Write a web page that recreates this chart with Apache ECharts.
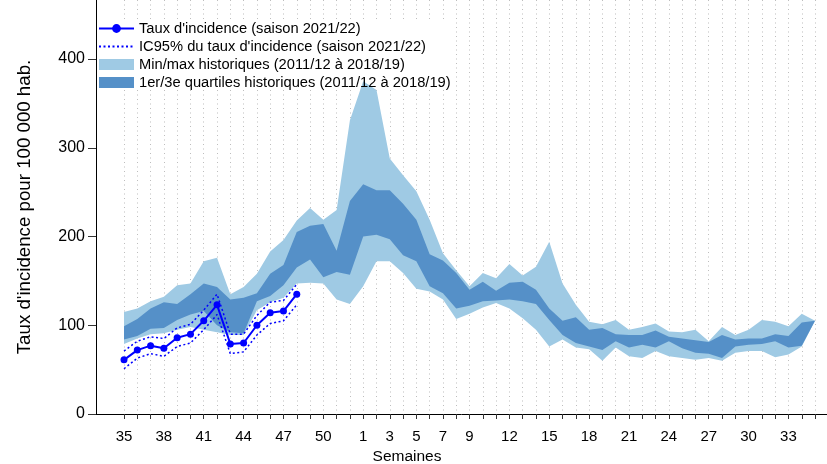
<!DOCTYPE html>
<html>
<head>
<meta charset="utf-8">
<script src="https://cdn.jsdelivr.net/npm/echarts@6/dist/echarts.min.js"></script>
<style>
html, body { margin: 0; padding: 0; background: #fff; }
#chart { width: 827px; height: 464px; }
</style>
</head>
<body>
<div id="chart"></div>
<script>
// semaines de la saison (35 -> 35)
var weeks = ['35','36','37','38','39','40','41','42','43','44','45','46','47','48','49','50','51','52',
    '1','2','3','4','5','6','7','8','9','10','11','12','13','14','15','16','17','18','19','20',
    '21','22','23','24','25','26','27','28','29','30','31','32','33','34','35'];
var shownWeeks = ['35','38','41','44','47','50','1','3','5','7','9','12','15','18','21','24','27','30','33'];
var yTicks = [0, 100, 200, 300, 400];

// saison 2021/22
var rate   = [61, 72, 77, 74, 86, 90, 105, 123, 79, 80, 100, 114, 116, 135];
var icLow  = [51, 63, 68, 65, 76, 80, 95, 112, 68, 70, 89, 102, 105, 123];
var icHigh = [71, 82, 87, 85, 97, 101, 117, 135, 90, 90, 111, 126, 128, 146];

// historique 2011/12 a 2018/19
var histMax = [115, 119, 127, 132, 145, 147, 172, 176, 135, 143, 158, 183, 196, 218, 232, 219, 230, 331,
    375, 365, 288, 269, 251, 219, 181, 162, 144, 159, 153, 169, 156, 166, 194, 147, 123, 104, 101, 106,
    95, 98, 102, 93, 92, 95, 82, 98, 89, 95, 106, 104, 99, 113, 105];
var histQ3 = [99, 107, 119, 126, 124, 135, 147, 143, 129, 131, 136, 158, 168, 205, 212, 214, 184, 240,
    259, 252, 252, 237, 219, 180, 173, 159, 140, 149, 139, 148, 149, 140, 119, 105, 109, 95, 97, 90,
    89, 89, 94, 87, 85, 83, 81, 89, 84, 85, 85, 90, 88, 103, 105];
var histQ1 = [84, 88, 96, 97, 106, 112, 116, 100, 92, 91, 127, 133, 145, 165, 174, 154, 160, 157,
    200, 202, 197, 179, 172, 144, 136, 119, 122, 127, 128, 129, 127, 124, 106, 89, 80, 76, 72, 82,
    75, 78, 75, 82, 74, 69, 68, 63, 76, 78, 79, 82, 75, 77, 105];
var histMin = [79, 85, 90, 91, 95, 98, 95, 92, 89, 89, 117, 126, 131, 147, 148, 147, 129, 124,
    144, 172, 172, 159, 141, 138, 129, 107, 113, 120, 125, 119, 108, 95, 76, 84, 75, 73, 60, 75,
    65, 63, 71, 65, 63, 61, 63, 60, 69, 71, 71, 64, 67, 76, 105];

var rateName = "Taux d'incidence (saison 2021/22)";
var icName = "IC95% du taux d'incidence (saison 2021/22)";
var minmaxName = 'Min/max historiques (2011/12 à 2018/19)';
var quartName = '1er/3e quartiles historiques (2011/12 à 2018/19)';

var font = '"Liberation Sans", Arial, sans-serif';
var blue = '#0000ff';

function toPoints(values) {
    return values.map(function (v, i) { return [i, v]; });
}

/** bande entre deux courbes, dessinee en un seul polygone */
function bandSeries(name, lower, upper, color) {
    return {
        name: name,
        type: 'custom',
        silent: true,
        itemStyle: { color: color },
        data: lower.map(function (v, i) { return [i, v, upper[i]]; }),
        encode: { x: 0, y: [1, 2] },
        renderItem: function (params, api) {
            if (params.dataIndex !== 0) return;
            var pts = [];
            for (var i = 0; i < upper.length; i++) pts.push(api.coord([i, upper[i]]));
            for (var j = lower.length - 1; j >= 0; j--) pts.push(api.coord([j, lower[j]]));
            return { type: 'polygon', shape: { points: pts }, style: { fill: color } };
        }
    };
}

var tickIdx = weeks.map(function (w, i) { return i; });
var labelIdx = shownWeeks.map(function (w) { return weeks.indexOf(w); });

var myChart = echarts.init(document.getElementById('chart'));

var option = {
    animation: false,
    textStyle: { fontFamily: font },
    grid: { left: 96, right: 0, top: 0, bottom: 50 },
    legend: {
        orient: 'vertical',
        left: 93,
        top: 20,
        padding: [1, 5, 1, 5],
        itemWidth: 35,
        itemHeight: 11,
        itemGap: 3,
        textStyle: { fontSize: 14.7, color: '#000', fontFamily: font },
        data: [
            { name: rateName },
            { name: icName, itemStyle: { opacity: 0 } },
            { name: minmaxName, icon: 'rect' },
            { name: quartName, icon: 'rect' }
        ]
    },
    graphic: [
        // fond blanc de la legende : cache la grille, pas les bandes
        { type: 'rect', z: 1, shape: { x: 97, y: 19, width: 357, height: 71 }, style: { fill: '#fff' } },
        {
            type: 'text',
            x: 407,
            y: 457,
            style: { text: 'Semaines', fill: '#000', font: '15.5px ' + font, align: 'center', verticalAlign: 'middle' }
        }
    ],
    xAxis: {
        type: 'value',
        min: -2.107,
        max: 52.9,
        axisLine: { show: true, onZero: false, lineStyle: { color: '#000', width: 1 } },
        axisTick: { show: true, customValues: tickIdx, length: 5, lineStyle: { color: '#333' } },
        axisLabel: {
            customValues: labelIdx,
            color: '#000',
            fontSize: 15,
            margin: 15,
            formatter: function (v) { return weeks[v]; }
        },
        splitLine: { show: true, lineStyle: { type: [1, 3.5], color: '#bdbdbd', width: 1 } }
    },
    yAxis: {
        type: 'value',
        min: 0,
        max: 466.5,
        name: "Taux d'incidence pour 100 000 hab.",
        nameLocation: 'middle',
        nameGap: 62,
        nameTextStyle: { fontSize: 18.7, color: '#000', fontFamily: font },
        axisLine: { show: true, onZero: false, lineStyle: { color: '#000', width: 1 } },
        axisTick: { show: true, customValues: yTicks, length: 8, lineStyle: { color: '#333' } },
        axisLabel: { customValues: yTicks, color: '#000', fontSize: 16, margin: 11 },
        splitLine: { show: false }
    },
    series: [
        bandSeries(minmaxName, histMin, histMax, '#9fcae4'),
        bandSeries(quartName, histQ1, histQ3, '#5590c8'),
        {
            name: icName, type: 'line', data: toPoints(icLow), symbol: 'none', z: 4,
            lineStyle: { type: [2, 2.5], color: blue, width: 1.5 }, itemStyle: { color: blue }
        },
        {
            name: icName, type: 'line', data: toPoints(icHigh), symbol: 'none', z: 4,
            lineStyle: { type: [2, 2.5], color: blue, width: 1.5 }, itemStyle: { color: blue }
        },
        {
            name: rateName, type: 'line', data: toPoints(rate), symbol: 'circle', symbolSize: 7, z: 5,
            lineStyle: { color: blue, width: 2 }, itemStyle: { color: blue }
        }
    ]
};

myChart.setOption(option);
</script>
</body>
</html>
